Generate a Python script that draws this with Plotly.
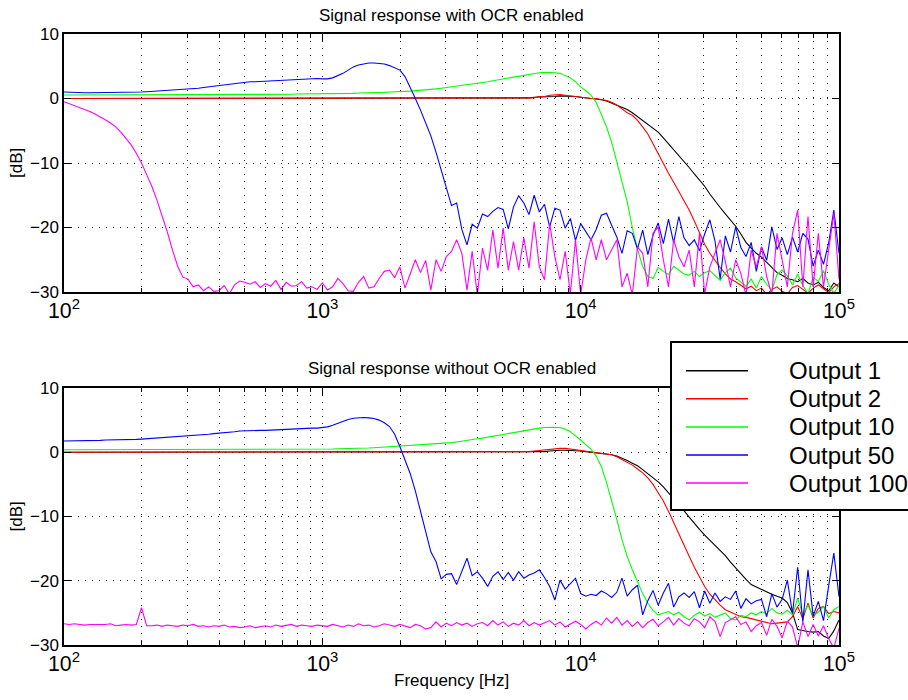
import numpy as np
import plotly.graph_objects as go

# Measurement sweep: 151 log-spaced bins from 100 Hz to 100 kHz (50 per decade)
FREQ_HZ = np.logspace(2, 5, 151)

SERIES_NAMES = ["Output 1", "Output 2", "Output 10", "Output 50", "Output 100"]
SERIES_COLORS = ["#000000", "#ff0000", "#00ff00", "#0000ff", "#ff00ff"]
PANEL_TITLES = ["Signal response with OCR enabled", "Signal response without OCR enabled"]
Y_LABEL = "[dB]"
X_LABEL = "Frequency [Hz]"
Y_RANGE = [-30, 10]
Y_TICKS = [-30, -20, -10, 0, 10]

# ---- magnitude response with OCR enabled [dB] ----
OCR_OUT1 = [
    0.0, 0.0, 0.0, 0.0, 0.0, 0.0, 0.0, 0.0, 0.0, 0.0,
    0.0, 0.0, 0.0, 0.0, 0.0, 0.0, 0.0, 0.0, 0.0, 0.0,
    0.0, 0.0, 0.0, 0.0, 0.0, 0.0, 0.0, 0.0, 0.0, 0.0,
    0.0, 0.0, 0.0, 0.0, 0.0, 0.0, 0.0, 0.0, 0.0, 0.0,
    0.0, 0.0, 0.0, 0.0, 0.0, 0.0, 0.0, 0.0, 0.0, 0.0,
    0.0, 0.0, 0.0, 0.0, 0.0, 0.0, 0.0, 0.0, 0.0, 0.0,
    0.0, 0.0, 0.0, 0.0, 0.0, 0.0, 0.0, 0.0, 0.0, 0.0,
    0.0, 0.0, 0.0, 0.0, 0.0, 0.0, 0.0, 0.0, 0.0, 0.0,
    0.0, 0.0, 0.0, 0.0, 0.0, 0.0, 0.1, 0.1, 0.1, 0.1,
    0.1, 0.2, 0.2, 0.2, 0.3, 0.3, 0.4, 0.4, 0.4, 0.3,
    0.2, 0.1, 0.1, 0.0, -0.2, -0.4, -0.7, -1.0, -1.3, -1.7,
    -2.2, -2.8, -3.4, -3.9, -4.5, -5.2, -6.1, -7.0, -7.9, -8.8,
    -9.8, -10.7, -11.7, -12.6, -13.6, -14.8, -15.9, -16.9, -17.9, -18.9,
    -19.8, -21.0, -22.3, -23.2, -24.0, -24.6, -25.4, -26.3, -27.0, -27.4,
    -27.9, -28.1, -28.4, -27.9, -28.6, -28.9, -28.5, -29.3, -29.8, -28.6,
    -29.2,
]
OCR_OUT2 = [
    0.0, 0.0, 0.0, 0.0, 0.0, 0.0, 0.0, 0.0, 0.0, 0.0,
    0.0, 0.0, 0.0, 0.0, 0.0, 0.0, 0.0, 0.0, 0.0, 0.0,
    0.0, 0.0, 0.0, 0.0, 0.0, 0.0, 0.0, 0.0, 0.0, 0.0,
    0.0, 0.0, 0.0, 0.0, 0.0, 0.0, 0.0, 0.0, 0.0, 0.0,
    0.0, 0.0, 0.0, 0.0, 0.0, 0.0, 0.0, 0.0, 0.0, 0.0,
    0.0, 0.0, 0.0, 0.0, 0.0, 0.0, 0.0, 0.0, 0.0, 0.0,
    0.0, 0.0, 0.0, 0.0, 0.0, 0.0, 0.0, 0.0, 0.0, 0.0,
    0.0, 0.0, 0.0, 0.0, 0.0, 0.0, 0.0, 0.0, 0.0, 0.0,
    0.0, 0.0, 0.0, 0.0, 0.0, 0.0, 0.0, 0.0, 0.0, 0.1,
    0.1, 0.1, 0.3, 0.3, 0.5, 0.6, 0.6, 0.5, 0.4, 0.2,
    0.1, 0.0, 0.0, 0.0, -0.1, -0.3, -0.6, -1.0, -1.6, -2.2,
    -2.6, -3.4, -4.4, -5.5, -7.0, -8.6, -10.1, -11.6, -13.0, -14.4,
    -15.8, -17.3, -19.0, -20.8, -22.6, -24.0, -25.2, -26.2, -27.2, -28.0,
    -28.4, -29.0, -29.5, -29.1, -29.8, -29.4, -30.4, -29.6, -29.2, -29.9,
    -30.3, -29.3, -29.0, -29.6, -30.2, -29.4, -28.9, -29.5, -30.1, -29.2,
    -28.7,
]
OCR_OUT10 = [
    0.55, 0.55, 0.55, 0.55, 0.55, 0.55, 0.55, 0.55, 0.55, 0.55,
    0.55, 0.55, 0.55, 0.55, 0.55, 0.55, 0.55, 0.55, 0.55, 0.55,
    0.55, 0.55, 0.55, 0.55, 0.55, 0.55, 0.6, 0.6, 0.6, 0.6,
    0.6, 0.6, 0.6, 0.6, 0.6, 0.6, 0.6, 0.65, 0.65, 0.65,
    0.65, 0.65, 0.65, 0.65, 0.65, 0.7, 0.7, 0.7, 0.7, 0.7,
    0.7, 0.7, 0.75, 0.75, 0.8, 0.8, 0.8, 0.85, 0.85, 0.9,
    0.9, 0.95, 0.95, 1.0, 1.0, 1.05, 1.1, 1.15, 1.2, 1.3,
    1.35, 1.45, 1.5, 1.6, 1.7, 1.8, 1.9, 2.0, 2.2, 2.3,
    2.4, 2.5, 2.6, 2.75, 2.9, 3.05, 3.2, 3.3, 3.4, 3.55,
    3.7, 3.85, 4.0, 4.05, 4.05, 4.0, 3.9, 3.6, 3.2, 2.6,
    1.8, 1.2, 0.5, -0.6, -2.4, -4.4, -6.8, -9.8, -12.9, -16.0,
    -20.0, -23.4, -26.0, -27.6, -27.9, -26.2, -26.8, -27.3, -26.0, -26.6,
    -27.2, -27.4, -26.8, -27.6, -27.0, -26.7, -27.5, -28.2, -27.0, -26.3,
    -27.8, -28.4, -29.1, -28.0, -29.4, -27.6, -28.8, -29.7, -27.3, -26.6,
    -27.5, -28.9, -27.2, -29.0, -30.3, -27.7, -28.4, -26.7, -28.8, -30.2,
    -29.0,
]
OCR_OUT50 = [
    1.0, 0.95, 0.95, 0.9, 0.9, 0.9, 0.9, 0.9, 0.9, 0.9,
    0.9, 0.9, 0.95, 0.95, 1.0, 1.0, 1.05, 1.1, 1.1, 1.15,
    1.2, 1.25, 1.3, 1.35, 1.4, 1.5, 1.6, 1.7, 1.8, 1.9,
    2.0, 2.15, 2.3, 2.4, 2.5, 2.55, 2.6, 2.6, 2.65, 2.65,
    2.7, 2.75, 2.8, 2.9, 2.95, 3.0, 3.05, 3.05, 3.1, 3.1,
    3.05, 3.05, 3.2, 3.5, 3.9, 4.4, 4.9, 5.2, 5.4, 5.5,
    5.5, 5.45, 5.35, 5.1, 4.8, 4.4, 3.4, 1.8, 0.0, -1.8,
    -3.8, -5.8, -8.3, -11.0, -14.0, -16.6, -16.2, -20.3, -22.7, -19.5,
    -20.1, -17.9, -18.3, -17.5, -16.9, -17.2, -20.2, -16.8, -15.1, -16.2,
    -18.0, -15.0, -17.6, -16.4, -19.9, -17.0, -17.3, -20.1, -18.6, -22.0,
    -19.4, -20.6, -21.9, -20.3, -18.1, -17.8, -19.8, -21.5, -24.0, -20.5,
    -20.9, -23.3, -20.4, -24.2, -21.2, -19.3, -22.5, -18.7, -22.4, -18.3,
    -21.6, -22.8, -21.9, -23.6, -21.0, -18.8, -22.1, -28.0, -21.3, -23.8,
    -19.9, -23.1, -24.5, -22.3, -26.8, -23.0, -25.1, -19.9, -23.4, -21.6,
    -24.2, -21.5, -23.8, -20.9, -21.8, -26.0, -23.5, -25.7, -22.4, -17.3,
    -24.0,
]
OCR_OUT100 = [
    -0.5, -0.8, -1.1, -1.3, -1.6, -2.0, -2.4, -2.8, -3.3, -3.8,
    -4.4, -5.2, -6.2, -7.2, -8.5, -10.0, -11.8, -13.6, -15.8, -18.1,
    -20.7, -23.5, -26.0, -27.7, -28.0, -29.2, -28.9, -29.8, -29.2, -29.9,
    -29.8, -29.0, -30.3, -28.9, -28.3, -28.5, -28.8, -28.4, -29.3, -28.7,
    -29.1, -28.2, -29.6, -28.5, -29.1, -29.0, -28.4, -29.4, -29.2, -29.6,
    -28.6, -29.7, -29.2, -27.9, -28.7, -29.8, -29.9, -28.5, -27.6, -29.4,
    -29.2, -27.9, -26.8, -26.6, -27.8, -26.1, -29.4, -27.2, -25.0, -27.0,
    -25.1, -29.7, -25.0, -26.8, -24.5, -23.7, -21.9, -24.0, -29.7, -23.7,
    -30.5, -23.2, -26.6, -20.4, -26.3, -20.1, -26.6, -22.2, -26.6, -21.6,
    -26.3, -19.1, -26.1, -28.1, -19.4, -24.5, -28.1, -23.7, -30.3, -21.9,
    -30.4, -25.0, -21.6, -25.0, -21.9, -25.0, -23.5, -21.9, -29.2, -27.1,
    -30.4, -23.0, -24.0, -29.2, -20.9, -19.9, -25.0, -29.2, -21.9, -24.5,
    -26.1, -23.5, -29.2, -20.9, -30.3, -26.1, -24.0, -21.9, -25.3, -29.2,
    -25.0, -27.1, -30.5, -23.5, -26.1, -23.0, -27.6, -30.4, -20.9, -24.8,
    -29.2, -20.9, -17.3, -29.2, -18.3, -29.2, -20.9, -29.2, -23.5, -17.8,
    -28.0,
]

# ---- magnitude response without OCR [dB] ----
RAW_OUT1 = [
    0.0, 0.0, 0.0, 0.0, 0.0, 0.0, 0.0, 0.0, 0.0, 0.0,
    0.0, 0.0, 0.0, 0.0, 0.0, 0.0, 0.0, 0.0, 0.0, 0.0,
    0.0, 0.0, 0.0, 0.0, 0.0, 0.0, 0.0, 0.0, 0.0, 0.0,
    0.0, 0.0, 0.0, 0.0, 0.0, 0.0, 0.0, 0.0, 0.0, 0.0,
    0.0, 0.0, 0.0, 0.0, 0.0, 0.0, 0.0, 0.0, 0.0, 0.0,
    0.0, 0.0, 0.0, 0.0, 0.0, 0.0, 0.0, 0.0, 0.0, 0.0,
    0.0, 0.0, 0.0, 0.0, 0.0, 0.0, 0.0, 0.0, 0.0, 0.0,
    0.0, 0.0, 0.0, 0.0, 0.0, 0.0, 0.0, 0.0, 0.0, 0.0,
    0.0, 0.0, 0.0, 0.0, 0.0, 0.0, 0.0, 0.0, 0.0, 0.1,
    0.1, 0.1, 0.1, 0.1, 0.2, 0.3, 0.3, 0.3, 0.3, 0.25,
    0.2, 0.1, 0.0, -0.1, -0.2, -0.2, -0.4, -0.6, -0.9, -1.3,
    -1.7, -2.1, -2.7, -3.3, -3.9, -4.6, -5.4, -6.3, -7.2, -8.2,
    -9.1, -10.1, -11.1, -12.0, -12.9, -13.7, -14.5, -15.2, -16.1, -17.1,
    -18.0, -19.0, -19.8, -20.6, -21.0, -21.4, -21.8, -22.1, -22.4, -22.7,
    -23.4, -25.0, -27.6, -27.8, -27.9, -28.0, -27.9, -28.6, -29.0, -27.8,
    -26.1,
]
RAW_OUT2 = [
    0.0, 0.0, 0.0, 0.0, 0.0, 0.0, 0.0, 0.0, 0.0, 0.0,
    0.0, 0.0, 0.0, 0.0, 0.0, 0.0, 0.0, 0.0, 0.0, 0.0,
    0.0, 0.0, 0.0, 0.0, 0.0, 0.0, 0.0, 0.0, 0.0, 0.0,
    0.0, 0.0, 0.0, 0.0, 0.0, 0.0, 0.0, 0.0, 0.0, 0.0,
    0.0, 0.0, 0.0, 0.0, 0.0, 0.0, 0.0, 0.0, 0.0, 0.0,
    0.0, 0.0, 0.0, 0.0, 0.0, 0.0, 0.0, 0.0, 0.0, 0.0,
    0.0, 0.0, 0.0, 0.0, 0.0, 0.0, 0.0, 0.0, 0.0, 0.0,
    0.0, 0.0, 0.0, 0.0, 0.0, 0.0, 0.0, 0.0, 0.0, 0.0,
    0.0, 0.0, 0.0, 0.0, 0.0, 0.0, 0.0, 0.0, 0.0, 0.1,
    0.1, 0.2, 0.3, 0.3, 0.4, 0.5, 0.6, 0.6, 0.5, 0.3,
    0.2, 0.1, 0.0, 0.0, -0.1, -0.2, -0.4, -0.7, -1.1, -1.5,
    -2.0, -2.6, -3.2, -4.0, -5.0, -6.3, -7.6, -9.2, -11.0, -12.8,
    -14.6, -16.2, -17.9, -19.5, -20.9, -22.1, -23.0, -23.8, -24.5, -24.9,
    -25.3, -25.6, -25.7, -25.9, -26.1, -26.4, -26.5, -26.7, -26.6, -26.5,
    -26.4, -25.6, -24.0, -25.9, -23.5, -25.8, -24.3, -24.0, -25.1, -24.8,
    -25.0,
]
RAW_OUT10 = [
    0.4, 0.4, 0.4, 0.4, 0.4, 0.4, 0.4, 0.4, 0.4, 0.4,
    0.4, 0.4, 0.4, 0.4, 0.4, 0.4, 0.4, 0.4, 0.4, 0.4,
    0.4, 0.45, 0.45, 0.45, 0.45, 0.45, 0.45, 0.45, 0.45, 0.45,
    0.45, 0.45, 0.45, 0.45, 0.45, 0.45, 0.45, 0.45, 0.45, 0.45,
    0.45, 0.5, 0.5, 0.5, 0.5, 0.5, 0.5, 0.5, 0.5, 0.5,
    0.5, 0.5, 0.5, 0.55, 0.55, 0.55, 0.6, 0.6, 0.6, 0.65,
    0.7, 0.75, 0.8, 0.8, 0.85, 0.9, 0.95, 1.0, 1.05, 1.1,
    1.2, 1.25, 1.3, 1.35, 1.4, 1.5, 1.6, 1.75, 1.9, 2.0,
    2.1, 2.2, 2.35, 2.5, 2.65, 2.8, 2.95, 3.1, 3.25, 3.4,
    3.5, 3.65, 3.75, 3.85, 3.9, 3.9, 3.85, 3.6, 3.2, 2.6,
    1.9, 1.2, 0.5, -0.6, -2.2, -4.7, -7.5, -10.5, -13.6, -16.2,
    -18.3, -20.3, -22.0, -23.5, -24.6, -25.3, -25.0, -24.8, -25.3, -24.9,
    -25.6, -26.1, -25.4, -24.9, -25.5, -25.1, -25.7, -25.4, -25.0, -25.9,
    -26.1, -25.4, -25.6, -25.0, -25.3, -24.8, -25.1, -24.3, -25.0, -25.2,
    -24.6, -25.3, -22.7, -25.3, -23.8, -25.4, -24.9, -24.0, -25.8, -24.5,
    -24.0,
]
RAW_OUT50 = [
    1.75, 1.75, 1.75, 1.75, 1.75, 1.75, 1.75, 1.85, 1.9, 1.9,
    1.95, 1.95, 2.0, 2.0, 2.0, 2.05, 2.1, 2.15, 2.2, 2.25,
    2.3, 2.35, 2.4, 2.45, 2.5, 2.6, 2.7, 2.75, 2.8, 2.9,
    2.95, 3.05, 3.15, 3.2, 3.3, 3.35, 3.35, 3.4, 3.4, 3.4,
    3.45, 3.45, 3.5, 3.55, 3.6, 3.65, 3.7, 3.7, 3.75, 3.75,
    3.8, 3.95, 4.2, 4.5, 4.85, 5.1, 5.3, 5.4, 5.4, 5.35,
    5.25, 5.0, 4.6, 4.0, 2.8, 0.9, -1.2, -3.3, -6.0, -9.3,
    -12.6, -15.5, -17.0, -19.7, -19.0, -18.9, -20.6, -18.4, -16.5, -19.2,
    -18.6, -19.6, -20.9, -19.3, -18.6, -19.8, -18.7, -19.9, -18.6, -19.6,
    -19.1, -18.8, -18.3, -19.5, -20.9, -23.0, -19.9, -21.3, -20.4, -19.6,
    -22.0, -22.4, -22.1, -22.3, -21.6, -22.0, -22.6, -21.8, -19.6, -22.4,
    -21.4, -20.7, -25.3, -23.1, -21.5, -23.8, -21.9, -20.4, -24.1, -22.5,
    -21.9, -22.6, -21.7, -24.2, -21.6, -23.5, -21.9, -23.2, -22.5, -22.9,
    -21.6, -24.3, -22.8, -23.6, -23.1, -22.9, -25.6, -22.0, -24.1, -22.9,
    -19.9, -25.1, -17.9, -26.4, -18.3, -25.5, -23.2, -26.2, -20.8, -15.7,
    -22.5,
]
RAW_OUT100 = [
    -26.7, -26.8, -26.7, -26.8, -26.9, -26.8, -26.8, -26.9, -26.8, -26.7,
    -27.0, -26.9, -26.8, -26.9, -26.8, -24.2, -27.0, -27.0, -26.9, -27.1,
    -26.9, -27.0, -27.1, -26.9, -27.0, -26.8, -27.1, -27.0, -27.2, -27.0,
    -27.1, -26.9, -27.2, -27.1, -27.3, -27.2, -27.0, -27.3, -27.1, -27.0,
    -27.2, -26.9, -27.1, -27.0, -26.8, -27.1, -26.9, -27.0, -27.1, -26.9,
    -27.0, -27.1, -26.8, -27.0, -27.2, -26.9, -27.1, -26.7, -27.0, -26.9,
    -27.2, -27.0, -26.7, -26.9, -27.1, -26.8, -27.0, -27.3, -26.8, -27.0,
    -27.5, -27.3, -26.4, -27.2, -26.6, -27.0, -26.5, -26.9, -26.6, -27.1,
    -26.7, -26.5, -27.0, -26.2, -26.9, -26.4, -27.1, -26.6, -26.9, -26.2,
    -27.0, -26.5, -26.9, -26.6, -26.2, -26.9, -26.4, -27.2, -26.7, -26.3,
    -26.8, -27.5, -26.8, -26.3, -26.9, -25.8, -26.6, -25.7, -26.9, -26.2,
    -27.1, -26.4, -27.3, -26.5, -26.0, -27.0, -26.4, -25.7, -26.9, -25.9,
    -26.6, -27.0, -25.9, -26.4, -27.3, -25.6, -26.3, -28.7, -26.5, -26.0,
    -25.6, -26.8, -26.4, -27.9, -27.0, -26.5, -28.5, -26.0, -27.1, -28.9,
    -26.3, -27.2, -30.4, -26.4, -28.7, -26.8, -28.6, -27.0, -29.0, -30.5,
    -27.4,
]

PANELS = [
    [OCR_OUT1, OCR_OUT2, OCR_OUT10, OCR_OUT50, OCR_OUT100],
    [RAW_OUT1, RAW_OUT2, RAW_OUT10, RAW_OUT50, RAW_OUT100],
]

# ---- page geometry (pixels) ----
W, H = 908, 700
ML, MR, MT, MB = 64, 69, 34, 55
PLOT_W = W - ML - MR
PLOT_H = H - MT - MB


def px_x(px):
    return (px - ML) / PLOT_W


def px_y(py):
    return (H - MB - py) / PLOT_H


TEXT_FONT = "Liberation Sans, Arial, Helvetica, sans-serif"
GRID_DASH = "1px,6px"
GRID_COLOR = "#222222"

fig = go.Figure()

for p, panel in enumerate(PANELS):
    suffix = "" if p == 0 else str(p + 1)
    for name, color, values in zip(SERIES_NAMES, SERIES_COLORS, panel):
        fig.add_trace(go.Scatter(
            x=FREQ_HZ, y=values, mode="lines", name=name,
            line=dict(color=color, width=1.1),
            xaxis="x" + suffix, yaxis="y" + suffix,
            showlegend=False,
        ))

x_style = dict(
    type="log", range=[2, 5], dtick=1, exponentformat="power", showexponent="all",
    ticks="inside", ticklen=7, tickwidth=1, tickcolor="black",
    showline=True, linecolor="black", linewidth=1.5, mirror="ticks",
    showgrid=True, gridcolor=GRID_COLOR, griddash=GRID_DASH, gridwidth=1,
    minor=dict(dtick="D1", ticks="inside", ticklen=4, tickcolor="black",
               showgrid=True, gridcolor=GRID_COLOR, griddash=GRID_DASH, gridwidth=1),
    tickfont=dict(family=TEXT_FONT, size=17, color="black"),
    zeroline=False, domain=[0, 1],
)
y_style = dict(
    range=Y_RANGE, tickvals=Y_TICKS,
    ticks="inside", ticklen=7, tickwidth=1, tickcolor="black",
    showline=True, linecolor="black", linewidth=1.5, mirror="ticks",
    showgrid=True, gridcolor=GRID_COLOR, griddash=GRID_DASH, gridwidth=1,
    tickfont=dict(family=TEXT_FONT, size=17, color="black"),
    zeroline=False,
)

top_dom = [px_y(292), 1.0]
bot_dom = [0.0, px_y(388)]

fig.update_layout(
    width=W, height=H, autosize=False,
    margin=dict(l=ML, r=MR, t=MT, b=MB, pad=0),
    paper_bgcolor="white", plot_bgcolor="white",
    xaxis=dict(x_style, anchor="y"),
    yaxis=dict(y_style, domain=top_dom, anchor="x"),
    xaxis2=dict(x_style, anchor="y2"),
    yaxis2=dict(y_style, domain=bot_dom, anchor="x2"),
    showlegend=False,
)

annotations = []
title_rows = [15, 368]
for title, row in zip(PANEL_TITLES, title_rows):
    annotations.append(dict(
        text=title, x=0.5, y=px_y(row), xref="paper", yref="paper",
        xanchor="center", yanchor="middle", showarrow=False,
        font=dict(family=TEXT_FONT, size=17, color="black"),
    ))
for row in [163, 516.5]:
    annotations.append(dict(
        text=Y_LABEL, x=px_x(16), y=px_y(row), xref="paper", yref="paper",
        xanchor="center", yanchor="middle", showarrow=False, textangle=-90,
        font=dict(family=TEXT_FONT, size=17, color="black"),
    ))
annotations.append(dict(
    text=X_LABEL, x=0.5, y=px_y(680), xref="paper", yref="paper",
    xanchor="center", yanchor="middle", showarrow=False,
    font=dict(family=TEXT_FONT, size=17, color="black"),
))

# Legend box drawn over the lower panel
shapes = [dict(
    type="rect", xref="paper", yref="paper",
    x0=px_x(671), x1=px_x(960), y0=px_y(510), y1=px_y(342),
    line=dict(color="black", width=2), fillcolor="white", layer="above",
)]
row0, row_step = 370.7, 28.1
for i, (name, color) in enumerate(zip(SERIES_NAMES, SERIES_COLORS)):
    ry = row0 + i * row_step
    shapes.append(dict(
        type="line", xref="paper", yref="paper",
        x0=px_x(686), x1=px_x(748), y0=px_y(ry), y1=px_y(ry),
        line=dict(color=color, width=1.5), layer="above",
    ))
    annotations.append(dict(
        text=name, x=px_x(787), y=px_y(ry), xref="paper", yref="paper",
        xanchor="left", yanchor="middle", showarrow=False,
        font=dict(family=TEXT_FONT, size=24, color="black"),
    ))

fig.update_layout(annotations=annotations, shapes=shapes)

fig.write_html("out.html")
